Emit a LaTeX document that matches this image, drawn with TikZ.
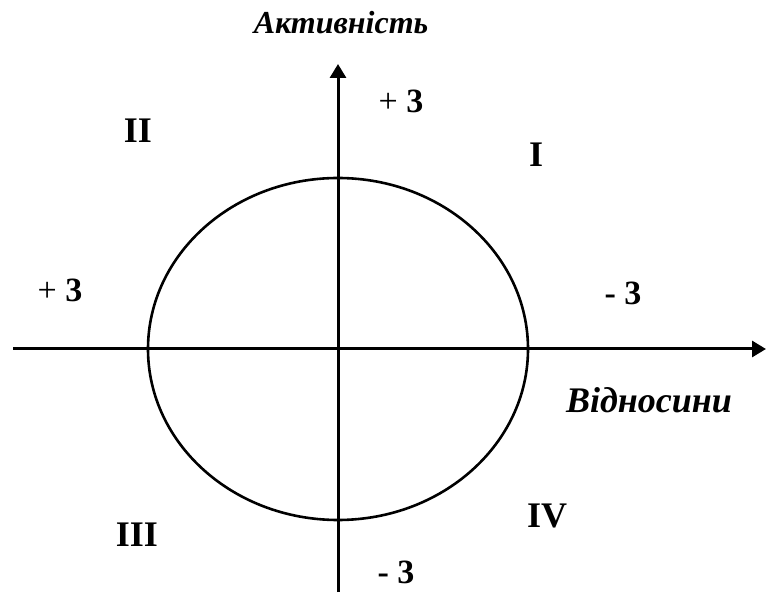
\documentclass[tikz,border=0pt]{standalone}
\usepackage{fontspec}
\setmainfont{Liberation Serif}
\usetikzlibrary{arrows.meta}
\begin{document}
\begin{tikzpicture}[x=1pt,y=-1pt,
  lbl/.style={font=\fontsize{34}{38}\selectfont\bfseries, inner sep=0pt, anchor=base},
  rom/.style={font=\fontsize{36}{40}\selectfont\bfseries, inner sep=0pt, anchor=base},
  ttl/.style={font=\fontsize{36}{40}\selectfont\bfseries\itshape, inner sep=0pt, anchor=base},
  axis/.style={line width=3pt, -{Triangle[length=14pt,width=16pt]}}]
\useasboundingbox (0,0) rectangle (766,593);
\coordinate (O) at (338,349);
\coordinate (xs) at (13,349);
\coordinate (xe) at (766,349);
\coordinate (ys) at (338,592);
\coordinate (ye) at (338,64);
\draw[axis] (xs) -- (xe);
\draw[axis] (ys) -- (ye);
\draw[line width=2.6pt] (O) ellipse [x radius=190, y radius=171];
\node[ttl, font=\fontsize{32}{36}\selectfont\bfseries\itshape] (akt) at (341,34) {Активність};
\node[ttl] (vid) at (649,413) {Відносини};
\node[lbl] (p3t) at (401,113) {{\mdseries +} 3};
\node[lbl] (p3l) at (60,302) {{\mdseries +} 3};
\node[lbl] (m3r) at (623,305) {- 3};
\node[lbl] (m3b) at (396,583) {- 3};
\node[rom] (q2) at (138,143) {II};
\node[rom] (q1) at (536,167) {I};
\node[rom] (q4) at (547,527) {IV};
\node[rom] (q3) at (137,546) {III};
\end{tikzpicture}
\end{document}
